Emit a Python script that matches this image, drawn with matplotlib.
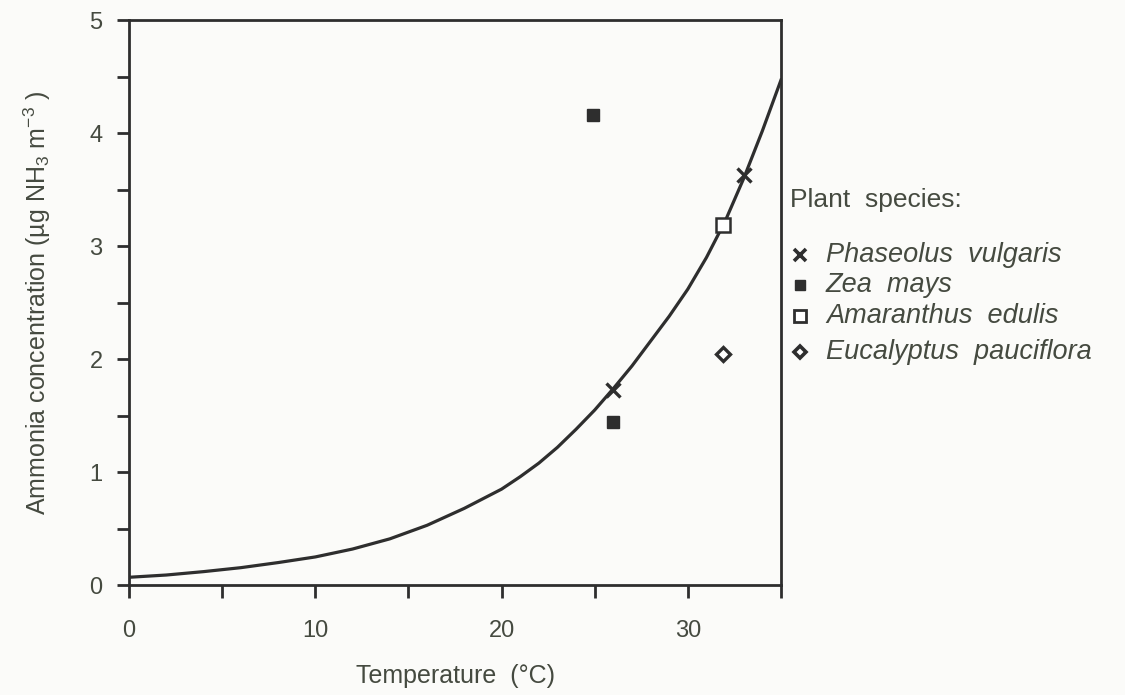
import matplotlib
matplotlib.use("Agg")
import matplotlib.pyplot as plt
from matplotlib.lines import Line2D
from matplotlib.ticker import MultipleLocator, FixedLocator

plt.rcParams['font.family'] = ['Liberation Sans', 'DejaVu Sans']
plt.rcParams['mathtext.fontset'] = 'custom'
plt.rcParams['mathtext.rm'] = 'Liberation Sans'

# fitted curve
curve_temp = [0, 2, 4, 6, 8, 10, 12, 14, 16, 18, 20, 21, 22, 23, 24, 25, 26,
              27, 28, 29, 30, 31, 32, 33, 34, 35]
curve_nh3 = [0.07, 0.09, 0.12, 0.155, 0.20, 0.25, 0.32, 0.41, 0.53, 0.68, 0.85,
             0.96, 1.08, 1.22, 1.38, 1.55, 1.74, 1.94, 2.16, 2.38, 2.62, 2.90,
             3.22, 3.60, 4.02, 4.47]

# measured points per species
phaseolus_t = [26.0, 33.0]
phaseolus_c = [1.73, 3.63]
zea_t = [24.9, 26.0]
zea_c = [4.16, 1.44]
amaranthus_t = [31.9]
amaranthus_c = [3.19]
eucalyptus_t = [31.9]
eucalyptus_c = [2.05]

species = ['Phaseolus  vulgaris', 'Zea  mays', 'Amaranthus  edulis',
           'Eucalyptus  pauciflora']
x_ticks = [0, 10, 20, 30]
y_ticks = [0, 1, 2, 3, 4, 5]

ink = '#2e2e2e'
txt = '#454a40'

styles = [
    dict(marker='x', ms=10, mew=2.4, color=ink),
    dict(marker='s', ms=8, color=ink),
    dict(marker='s', ms=10, mew=1.8, mfc='white', mec=ink),
    dict(marker='D', ms=7, mew=2.4, mfc='white', mec=ink),
]
legend_marks = [
    dict(marker='x', ms=8, mew=2.6, color=ink),
    dict(marker='s', ms=7, color=ink),
    dict(marker='s', ms=8, mew=2.0, mfc='white', mec=ink),
    dict(marker='D', ms=6, mew=2.6, mfc='white', mec=ink),
]

fig = plt.figure(figsize=(11.25, 6.95), dpi=100)
fig.patch.set_facecolor('#fbfbf9')
ax = fig.add_axes([0.1147, 0.158, 0.5795, 0.813])
ax.set_facecolor('#fbfbf9')

ax.plot(curve_temp, curve_nh3, color=ink, lw=2.3, zorder=2)
series = [(phaseolus_t, phaseolus_c), (zea_t, zea_c),
          (amaranthus_t, amaranthus_c), (eucalyptus_t, eucalyptus_c)]
for (t, c), st in zip(series, styles):
    ax.plot(t, c, ls='none', zorder=3, **st)

ax.set_xlim(0, 35)
ax.set_ylim(0, 5)
ax.xaxis.set_major_locator(FixedLocator(x_ticks))
ax.xaxis.set_minor_locator(MultipleLocator(5))
ax.yaxis.set_major_locator(FixedLocator(y_ticks))
ax.yaxis.set_minor_locator(MultipleLocator(0.5))
ax.tick_params(which='both', direction='out', length=9, width=2, color=ink,
               labelsize=17, labelcolor=txt)
ax.tick_params(axis='x', pad=16)
ax.tick_params(axis='y', pad=10)
for s in ax.spines.values():
    s.set_color(ink)
    s.set_linewidth(2)

ax.set_xlabel('Temperature  (°C)', fontsize=18, color=txt, labelpad=16)
ax.set_ylabel('Ammonia concentration (µg NH$_3$ m$^{-3}$ )', fontsize=18,
              color=txt, labelpad=26)

# species key to the right of the axes
fig.text(790 / 1125, 1 - 200 / 695, 'Plant  species:', fontsize=19, color=txt,
         va='center', ha='left')
rows = [255, 285, 316, 352]
for name, st, py in zip(species, legend_marks, rows):
    fig.add_artist(Line2D([800 / 1125], [1 - py / 695], ls='none',
                          transform=fig.transFigure, **st))
    fig.text(826 / 1125, 1 - py / 695, name, fontsize=19.5, style='italic',
             color=txt, va='center', ha='left')

fig.savefig('out.png', dpi=100, facecolor=fig.get_facecolor())
